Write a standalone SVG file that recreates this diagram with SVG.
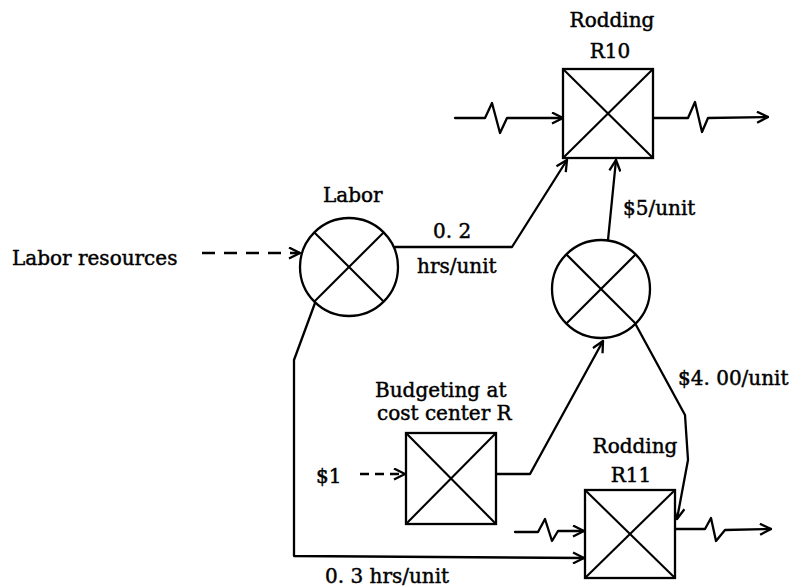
<svg xmlns="http://www.w3.org/2000/svg" width="802" height="587" viewBox="0 0 802 587">
  <style>
    .ln { fill: none; stroke: #000; stroke-width: 2.3; stroke-linejoin: round; stroke-linecap: round; }
    .dash { fill: none; stroke: #000; stroke-width: 2.6; stroke-dasharray: 13 9; }
    .dash2 { fill: none; stroke: #000; stroke-width: 2.6; stroke-dasharray: 9 6; }
    .shape { fill: #fff; stroke: #000; stroke-width: 2.3; }
    .x { stroke: #000; stroke-width: 2.1; }
    text { font-family: "DejaVu Serif", "Liberation Serif", serif; font-size: 20px; fill: #000; stroke: #000; stroke-width: 0.45; }
    .mid { text-anchor: middle; }
  </style>
  <defs>
    <marker id="arr" viewBox="0 0 13 13" refX="12" refY="6.5" markerWidth="13" markerHeight="13" markerUnits="userSpaceOnUse" orient="auto">
      <path d="M1,1 L12,6.5 L1,12" fill="none" stroke="#000" stroke-width="2.3" stroke-linejoin="miter"/>
    </marker>
  </defs>

  <rect width="802" height="587" fill="#fff"/>

  <!-- connectors -->
  <g id="connectors">
    <!-- flow into and out of Rodding R10 -->
    <polyline class="ln" points="455,118 485,118 492,103 500,133 507,118 563,118" marker-end="url(#arr)"/>
    <polyline class="ln" points="653,118 688,118 695,102 702,132 708,118 768,117" marker-end="url(#arr)"/>
    <!-- labor resources into labor -->
    <line class="dash" x1="202" y1="253" x2="300" y2="253" marker-end="url(#arr)"/>
    <!-- labor to R10 -->
    <polyline class="ln" points="395,247 512,247 567,160" marker-end="url(#arr)"/>
    <!-- cost node to R10 -->
    <line class="ln" x1="608" y1="240" x2="616" y2="160" marker-end="url(#arr)"/>
    <!-- $1 into budgeting -->
    <line class="dash2" x1="360" y1="474" x2="405" y2="474" marker-end="url(#arr)"/>
    <!-- budgeting to cost node -->
    <polyline class="ln" points="496,474 530,474 603,341" marker-end="url(#arr)"/>
    <!-- cost node to R11 -->
    <polyline class="ln" points="636,325 685,415 688,460 677,519" marker-end="url(#arr)"/>
    <!-- labor to R11 -->
    <polyline class="ln" points="315,303 294,360 294,556 584,558" marker-end="url(#arr)"/>
    <!-- flow into and out of Rodding R11 -->
    <polyline class="ln" points="515,532 538,532 545,519 552,541 558,531 584,531" marker-end="url(#arr)"/>
    <polyline class="ln" points="675,529 705,529 711,518 716,541 725,530 771,529" marker-end="url(#arr)"/>
  </g>

  <!-- Rodding R10 -->
  <g id="rodding-r10">
    <rect class="shape" x="563" y="69" width="90" height="89"/>
    <line class="x" x1="563" y1="69" x2="653" y2="158"/>
    <line class="x" x1="653" y1="69" x2="563" y2="158"/>
    <text class="mid" x="612" y="27">Rodding</text>
    <text class="mid" x="610" y="58">R10</text>
  </g>

  <!-- Labor -->
  <g id="labor">
    <circle class="shape" cx="349" cy="267" r="49"/>
    <line class="x" x1="314.4" y1="232.4" x2="383.6" y2="301.6"/>
    <line class="x" x1="383.6" y1="232.4" x2="314.4" y2="301.6"/>
    <text x="323" y="202">Labor</text>
  </g>

  <!-- cost node -->
  <g id="cost-node">
    <circle class="shape" cx="601" cy="289" r="49"/>
    <line class="x" x1="566.4" y1="254.4" x2="635.6" y2="323.6"/>
    <line class="x" x1="635.6" y1="254.4" x2="566.4" y2="323.6"/>
  </g>

  <!-- Budgeting at cost center R -->
  <g id="budgeting">
    <rect class="shape" x="406" y="433" width="90" height="91"/>
    <line class="x" x1="406" y1="433" x2="496" y2="524"/>
    <line class="x" x1="496" y1="433" x2="406" y2="524"/>
    <text x="375" y="397">Budgeting at</text>
    <text x="377" y="420">cost center R</text>
  </g>

  <!-- Rodding R11 -->
  <g id="rodding-r11">
    <rect class="shape" x="585" y="490" width="90" height="88"/>
    <line class="x" x1="585" y1="490" x2="675" y2="578"/>
    <line class="x" x1="675" y1="490" x2="585" y2="578"/>
    <text class="mid" x="635" y="453">Rodding</text>
    <text class="mid" x="631" y="482">R11</text>
  </g>

  <!-- labels -->
  <g id="labels">
    <text x="12" y="265">Labor resources</text>
    <text x="433" y="238">0. 2</text>
    <text x="417" y="273">hrs/unit</text>
    <text x="623" y="215">$5/unit</text>
    <text x="678" y="385">$4. 00/unit</text>
    <text x="316" y="483">$1</text>
    <text x="325" y="583">0. 3 hrs/unit</text>
  </g>
</svg>
